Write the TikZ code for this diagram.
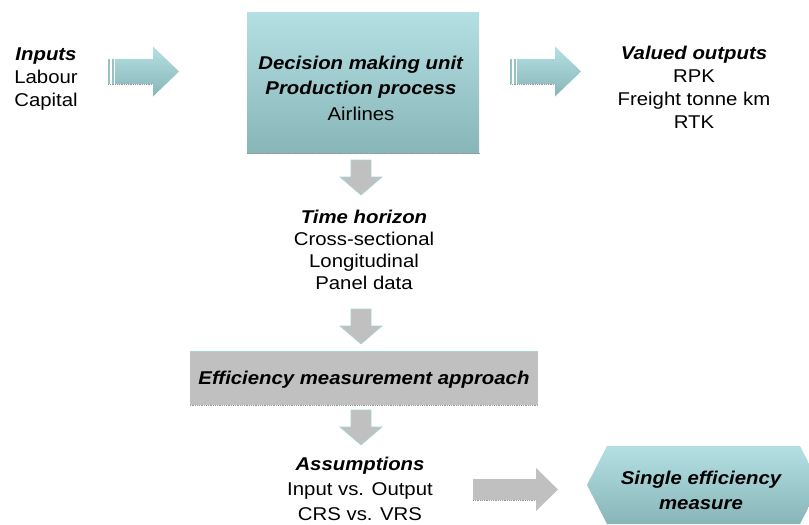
\documentclass[tikz,border=0pt]{standalone}
\usepackage{fontspec}
\setmainfont[FakeStretch=1.1]{Liberation Sans}
\usetikzlibrary{shapes.geometric}

\definecolor{tealtop}{RGB}{180,224,228}
\definecolor{tealbot}{RGB}{136,181,184}
\definecolor{blockgray}{RGB}{192,192,192}
\definecolor{rimteal}{RGB}{168,212,216}
\definecolor{shadowdot}{RGB}{150,150,150}

\begin{document}
\begin{tikzpicture}[x=1pt,y=-1pt,
  txt/.style={align=center, inner sep=0pt, font=\fontsize{18.5}{23}\selectfont},
  bi/.style={font=\fontsize{18.5}{23}\selectfont\bfseries\itshape},
  tealfill/.style={top color=tealtop, bottom color=tealbot, draw=none},
  grayblock/.style={fill=blockgray, draw=rimteal, line width=0.6pt, line join=miter},
  shadowline/.style={draw=shadowdot, densely dotted, line width=0.8pt},
  downarrow/.pic={
    \path[grayblock] (-10,0) -- (10,0) -- (10,17) -- (21,17) -- (0,35)
      -- (-21,17) -- (-10,17) -- cycle;
  },
  stripedarrow/.pic={
    \fill[tealbot!70!tealtop] (0,12.5) rectangle (2,37.5);
    \fill[tealbot!70!tealtop] (3.5,12.5) rectangle (6,37.5);
    \path[tealfill] (7.5,12.5) -- (45,12.5) -- (45,0) -- (71,25) -- (45,50)
      -- (45,37.5) -- (7.5,37.5) -- cycle;
    \draw[shadowline] (0,37.5) -- (45,37.5);
  }]
\useasboundingbox (0,0) rectangle (809,525);

% decision making unit
\node[tealfill, minimum width=232pt, minimum height=141pt, inner sep=0pt]
  (dmu) at (363,82.5) {};
\draw[shadowline] (dmu.south west) -- (dmu.south east);
\node[txt, font=\fontsize{18.5}{25.5}\selectfont] (dmutext) at (361,88)
  {\textbf{\textit{Decision making unit}}\\
   \textbf{\textit{Production process}}\\
   Airlines};

% inputs and outputs
\node[txt] (inputs) at (46,79)
  {\textbf{\textit{Inputs}}\\ Labour\\ Capital};
\node[txt] (outputs) at (694,87)
  {\textbf{\textit{Valued outputs}}\\ RPK\\ Freight tonne km\\ RTK};

\pic at (108,46.5) {stripedarrow};
\pic at (510,46.5) {stripedarrow};

% time horizon
\pic at (361,160) {downarrow};
\node[txt, font=\fontsize{18.5}{22}\selectfont] (time) at (364,250)
  {\textbf{\textit{Time horizon}}\\ Cross-sectional\\ Longitudinal\\ Panel data};

% measurement approach
\pic at (361,309) {downarrow};
\node[fill=blockgray, minimum width=348pt, minimum height=53pt, inner sep=0pt]
  (approach) at (364,378.5) {};
\draw[rimteal, line width=0.8pt] (approach.north west) -- (approach.north east);
\draw[shadowline] (approach.south west) -- (approach.south east);
\node[txt, bi] (approachtext) at (364,380) {Efficiency measurement approach};

% assumptions
\pic at (361,410) {downarrow};
\node[txt, font=\fontsize{18.5}{25}\selectfont] (assume) at (360,489)
  {\textbf{\textit{Assumptions}}\\ Input vs. Output\\ CRS vs. VRS};

% gray arrow to the result
\path[grayblock, draw=none] (473,479) -- (536,479) -- (536,468) -- (558,489.5)
  -- (536,511) -- (536,500) -- (473,500) -- cycle;
\draw[shadowline] (473,500) -- (536,500);

% single efficiency measure
\path[tealfill] (587,485) -- (607,446) -- (800,446) -- (820,485)
  -- (800,524) -- (607,524) -- cycle;
\node[txt, font=\fontsize{18.5}{25}\selectfont\bfseries\itshape] (measure)
  at (701,490) {Single efficiency\\ measure};
\end{tikzpicture}
\end{document}
